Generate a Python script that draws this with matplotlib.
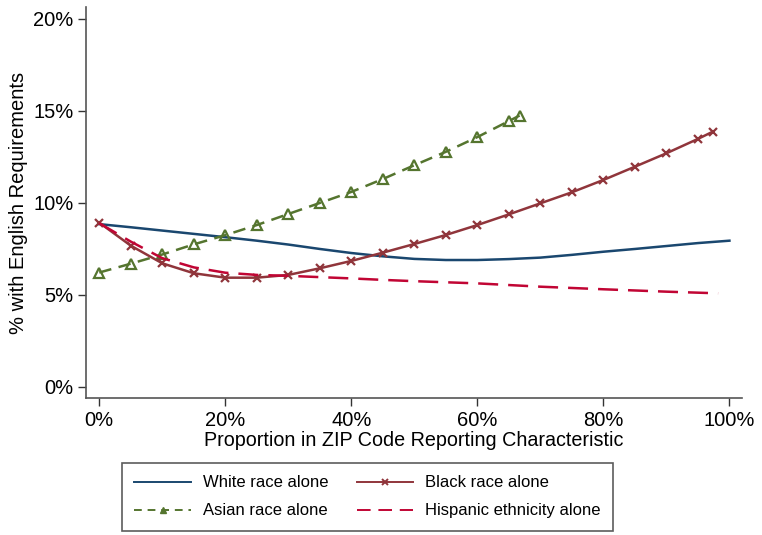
import numpy as np
import matplotlib.pyplot as plt
from matplotlib.lines import Line2D
from matplotlib.ticker import FuncFormatter

plt.rcParams['font.family'] = ['Liberation Sans', 'DejaVu Sans']

# Proportion in ZIP code (%) and share with English requirements (%)
white_x = [0, 5, 10, 15, 20, 25, 30, 35, 40, 45, 50, 55, 60, 65, 70, 75, 80, 85, 90, 95, 100]
white_y = [8.85, 8.68, 8.5, 8.32, 8.14, 7.95, 7.74, 7.5, 7.28, 7.1, 6.96, 6.9, 6.9, 6.95, 7.03, 7.18, 7.35, 7.5, 7.66, 7.82, 7.95]

black_x = [0, 5, 10, 15, 20, 25, 30, 35, 40, 45, 50, 55, 60, 65, 70, 75, 80, 85, 90, 95, 97.4]
black_y = [8.93, 7.68, 6.72, 6.18, 5.94, 5.94, 6.09, 6.45, 6.85, 7.3, 7.77, 8.26, 8.8, 9.38, 9.98, 10.58, 11.25, 11.97, 12.7, 13.48, 13.88]

asian_x = [0, 5, 10, 15, 20, 25, 30, 35, 40, 45, 50, 55, 60, 65, 66.7]
asian_y = [6.22, 6.7, 7.2, 7.75, 8.25, 8.8, 9.4, 10.0, 10.6, 11.3, 12.05, 12.78, 13.58, 14.45, 14.75]

hisp_x = [0, 5, 10, 15, 20, 25, 30, 40, 45, 50, 60, 70, 80, 90, 98.2]
hisp_y = [8.9, 7.9, 7.0, 6.5, 6.21, 6.09, 6.04, 5.9, 5.82, 5.75, 5.63, 5.45, 5.31, 5.18, 5.09]

x_ticks = [0, 20, 40, 60, 80, 100]
y_ticks = [0, 5, 10, 15, 20]

c_white, c_black, c_asian, c_hisp = '#1a476f', '#90353b', '#55752f', '#c10534'
dash_asian = (0, (5, 3))
dash_hisp = (0, (8, 4))

fig = plt.figure(figsize=(7.62, 5.35), dpi=100)
ax = fig.add_axes([0.1129, 0.256, 0.8609, 0.731])

ax.plot(white_x, white_y, color=c_white, lw=1.8)
ax.plot(asian_x, asian_y, color=c_asian, lw=1.8, ls=dash_asian,
        marker='^', ms=7, mfc='none', mew=1.6)
ax.plot(black_x, black_y, color=c_black, lw=1.8,
        marker='x', ms=6, mew=1.6)
ax.plot(hisp_x, hisp_y, color=c_hisp, lw=1.8, ls=dash_hisp)

ax.set_xlim(-2.1, 102)
ax.set_ylim(-0.6, 20.65)
ax.set_xticks(x_ticks)
ax.set_yticks(y_ticks)
pct = FuncFormatter(lambda v, p: f'{v:.0f}%')
ax.xaxis.set_major_formatter(pct)
ax.yaxis.set_major_formatter(pct)
ax.tick_params(labelsize=14.5, length=6, width=1, color='#333333', pad=3)

for s in ['top', 'right']:
    ax.spines[s].set_visible(False)
for s in ['left', 'bottom']:
    ax.spines[s].set_color('#555555')
    ax.spines[s].set_linewidth(1.2)

ax.set_xlabel('Proportion in ZIP Code Reporting Characteristic', fontsize=14.2, labelpad=1)
ax.set_ylabel('% with English Requirements', fontsize=14.5, labelpad=4)

# legend proxies (small filled markers like the original)
handles = [
    Line2D([], [], color=c_white, lw=1.4),
    Line2D([], [], color=c_asian, lw=1.4, ls=(0, (4, 3)), marker='^', ms=5, markevery=[1]),
    Line2D([], [], color=c_black, lw=1.4, marker='x', ms=4, mew=1.4, markevery=[1]),
    Line2D([], [], color=c_hisp, lw=1.4, ls=(0, (7, 4))),
]
labels = ['White race alone', 'Asian race alone', 'Black race alone', 'Hispanic ethnicity alone']

leg = ax.legend(handles, labels, ncol=2, fontsize=12, loc='upper left',
                bbox_to_anchor=(122 / 762, 72 / 535), bbox_transform=fig.transFigure,
                frameon=True, fancybox=False, edgecolor='#333333',
                handlelength=3.4, handletextpad=0.7, columnspacing=1.7,
                labelspacing=0.78, borderpad=0.74, borderaxespad=0)
leg.get_frame().set_linewidth(1.2)

fig.savefig('out.png', dpi=100)
